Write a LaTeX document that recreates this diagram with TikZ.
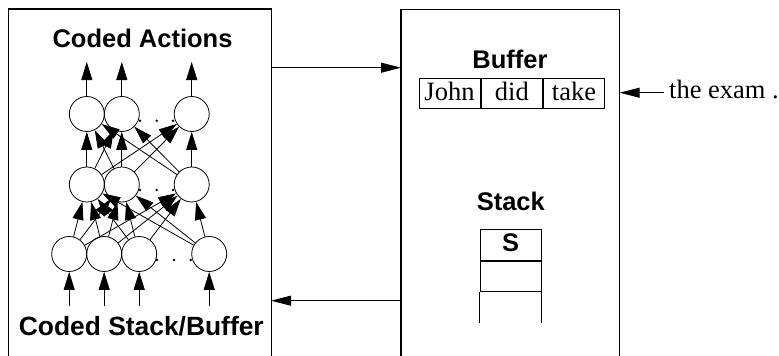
\documentclass[tikz,border=0pt]{standalone}
\usepackage{fontspec}
\setmainfont{Liberation Serif}
\setsansfont{Liberation Sans}
\usetikzlibrary{arrows.meta}
\begin{document}
\begin{tikzpicture}[x=1pt,y=-1pt,
  neuron/.style={circle,draw,line width=0.8pt,minimum size=35pt,inner sep=0pt},
  netarr/.style={line width=0.8pt,-{Triangle[length=18pt,width=11pt]}},
  boxline/.style={line width=1.1pt},
  bigarr/.style={line width=1pt,-{Triangle[length=20pt,width=10pt]}},
  lbl/.style={font=\sffamily\bfseries\fontsize{25.5}{30}\selectfont,inner sep=0pt,anchor=base},
  word/.style={font=\rmfamily\fontsize{26.5}{31}\selectfont},
  cell/.style={draw,line width=1pt,inner sep=0pt,minimum height=30pt,text height=20pt,text depth=6pt},
  dot/.style={circle,fill,inner sep=0pt,minimum size=2.8pt}
]
\useasboundingbox (0,0) rectangle (779,356);

% boxes (open at the bottom)
\node[minimum width=262.4pt,minimum height=350pt,anchor=north west,inner sep=0pt] (lbox) at (8.3,9) {};
\node[minimum width=218.3pt,minimum height=350pt,anchor=north west,inner sep=0pt] (rbox) at (401,9.5) {};
\draw[boxline] (lbox.south west) -- (lbox.north west) -- (lbox.north east) -- (lbox.south east);
\draw[boxline] (rbox.south west) -- (rbox.north west) -- (rbox.north east) -- (rbox.south east);

% labels
\node[lbl] (ca) at (142.5,47.3) {Coded Actions};
\node[lbl,font=\sffamily\bfseries\fontsize{26.4}{31}\selectfont] (csb) at (141.3,335) {Coded Stack/Buffer};
\node[lbl] (buf) at (510,68.3) {Buffer};
\node[lbl] (stk) at (510.8,210) {Stack};

% buffer cells
\node[cell,word,minimum width=61pt] (c1) at (449.5,93) {John};
\node[cell,word,minimum width=61.7pt,anchor=west] (c2) at (c1.east) {did};
\node[cell,word,minimum width=60.6pt,anchor=west] (c3) at (c2.east) {take};

% incoming words
\node[word,inner sep=0pt,anchor=base west] (exam) at (669,98.3) {the exam .};
\coordinate (exs) at (664,92.7);
\draw[bigarr] (exs) -- (rbox.east |- exs);

% stack
\node[draw,line width=1pt,inner sep=0pt,minimum width=61pt,minimum height=30.7pt,
      font=\sffamily\bfseries\fontsize{25.5}{30}\selectfont,text height=18pt,text depth=6.6pt] (s1) at (510.5,245.3) {S};
\node[draw,line width=1pt,inner sep=0pt,minimum width=61pt,minimum height=30.3pt,anchor=north] (s2) at (s1.south) {};
\draw[line width=1pt] (s2.south west) -- ++(0,30.7);
\draw[line width=1pt] (s2.south east) -- ++(0,30.7);

% connectors between the boxes
\coordinate (ytop) at (0,67.7);
\coordinate (ybot) at (0,300.7);
\draw[bigarr] (lbox.east |- ytop) -- (rbox.west |- ytop);
\draw[bigarr] (rbox.west |- ybot) -- (lbox.east |- ybot);

% network
\node[neuron] (t1) at (86.8,114) {};
\node[neuron] (t2) at (121.8,114) {};
\node[neuron] (t3) at (191.7,114) {};
\node[neuron] (m1) at (86.8,184.5) {};
\node[neuron] (m2) at (121.8,184.5) {};
\node[neuron] (m3) at (191.7,184.5) {};
\node[neuron] (b1) at (69.2,254) {};
\node[neuron] (b2) at (104.2,254) {};
\node[neuron] (b3) at (139.2,254) {};
\node[neuron] (b4) at (209.2,254) {};

\foreach \x in {140,156.7,173} {
  \node[dot] at (\x,120.7) {};
  \node[dot] at (\x,190) {};
}
\foreach \x in {157,174,190.7} {
  \node[dot] at (\x,260) {};
}

\foreach \s in {b1,b2,b3,b4} {
  \foreach \t in {m1,m2,m3} {
    \draw[netarr] (\s) -- (\t);
  }
}
\foreach \s in {m1,m2,m3} {
  \foreach \t in {t1,t2,t3} {
    \draw[netarr] (\s) -- (\t);
  }
}
\coordinate (yin) at (0,306);
\coordinate (yout) at (0,62);
\foreach \s in {b1,b2,b3,b4} {
  \draw[netarr] (\s |- yin) -- (\s);
}
\foreach \t in {t1,t2,t3} {
  \draw[netarr] (\t) -- (\t |- yout);
}
\end{tikzpicture}
\end{document}
